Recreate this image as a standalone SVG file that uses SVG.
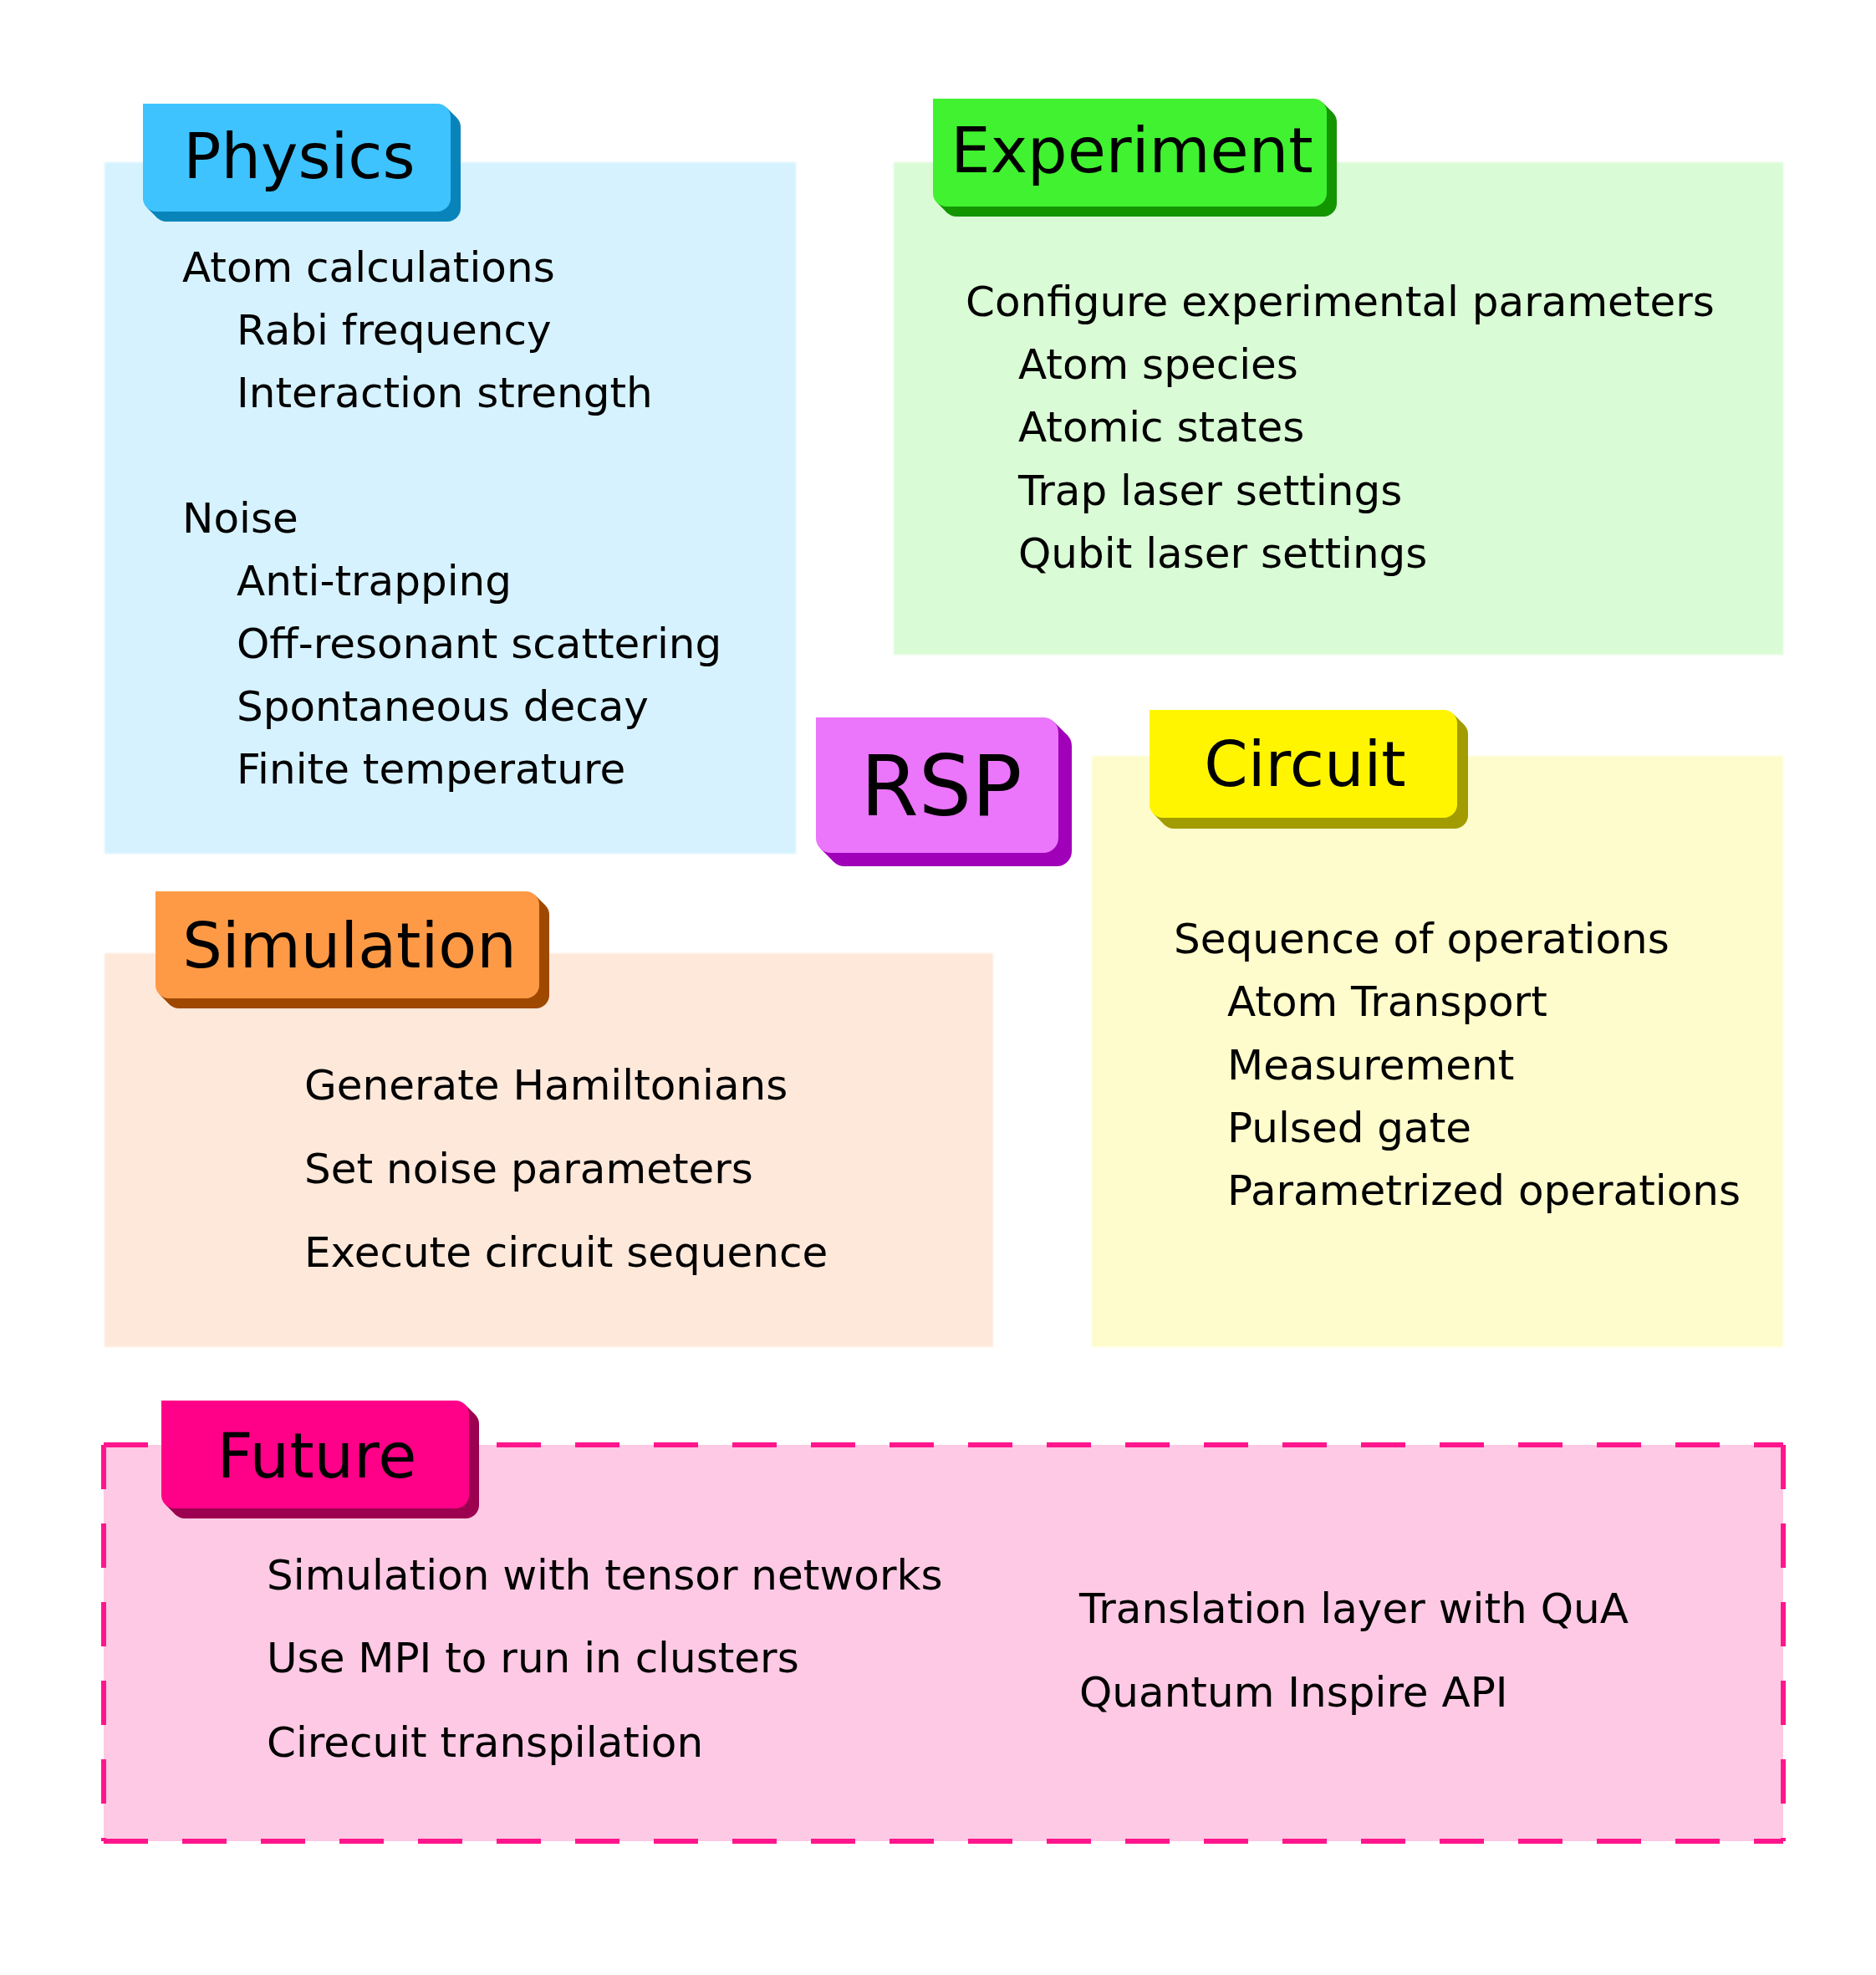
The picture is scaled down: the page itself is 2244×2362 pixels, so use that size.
<svg xmlns="http://www.w3.org/2000/svg" width="2244" height="2362" viewBox="0 0 2244 2362">
<defs>
<filter id="soft" x="-2%" y="-2%" width="104%" height="104%"><feGaussianBlur stdDeviation="1.2"/></filter>
</defs>
<style>
text{font-family:"DejaVu Sans","Liberation Sans",sans-serif;fill:#000}
.title{font-size:75px;text-anchor:middle}
.big{font-size:100px;text-anchor:middle}
.body{font-size:50px}
</style>
<rect width="2244" height="2362" fill="#ffffff"/>

<g id="physics">
<rect x="125" y="194" width="827" height="827" fill="#d6f2fe" filter="url(#soft)"/>
<g transform="translate(171,124)">
<g fill="#0984ba"><path transform="translate(12,12)" d="M0,0H352A16,16 0 0 1 368,16V113A16,16 0 0 1 352,129H16A16,16 0 0 1 0,113Z"/><polygon points="363.3,4.7 375.3,16.7 16.7,136.3 4.7,124.3"/></g>
<path fill="#3ec3ff" d="M0,0H352A16,16 0 0 1 368,16V113A16,16 0 0 1 352,129H16A16,16 0 0 1 0,113Z"/>
<text class="title" x="187" y="89">Physics</text>
</g>
<text class="body" x="218" y="337">Atom calculations</text>
<text class="body" x="283" y="412">Rabi frequency</text>
<text class="body" x="283" y="487">Interaction strength</text>
<text class="body" x="218" y="637">Noise</text>
<text class="body" x="283" y="712">Anti-trapping</text>
<text class="body" x="283" y="787">Off-resonant scattering</text>
<text class="body" x="283" y="862">Spontaneous decay</text>
<text class="body" x="283" y="937">Finite temperature</text>
</g>

<g id="experiment">
<rect x="1069" y="194" width="1064" height="589" fill="#d9fbd5" filter="url(#soft)"/>
<g transform="translate(1116,118)">
<g fill="#139500"><path transform="translate(12,12)" d="M0,0H455A16,16 0 0 1 471,16V113A16,16 0 0 1 455,129H16A16,16 0 0 1 0,113Z"/><polygon points="466.3,4.7 478.3,16.7 16.7,136.3 4.7,124.3"/></g>
<path fill="#40f230" d="M0,0H455A16,16 0 0 1 471,16V113A16,16 0 0 1 455,129H16A16,16 0 0 1 0,113Z"/>
<text class="title" x="238" y="88">Experiment</text>
</g>
<text class="body" x="1155" y="378">Configure experimental parameters</text>
<text class="body" x="1218" y="453">Atom species</text>
<text class="body" x="1218" y="528">Atomic states</text>
<text class="body" x="1218" y="604">Trap laser settings</text>
<text class="body" x="1218" y="679">Qubit laser settings</text>
</g>

<g id="circuit">
<rect x="1306" y="904" width="827" height="707" fill="#fefccc" filter="url(#soft)"/>
<g transform="translate(1375,849)">
<g fill="#a39c00"><path transform="translate(13,13)" d="M0,0H352A16,16 0 0 1 368,16V113A16,16 0 0 1 352,129H16A16,16 0 0 1 0,113Z"/><polygon points="363.3,4.7 376.3,17.7 17.7,137.3 4.7,124.3"/></g>
<path fill="#fff500" d="M0,0H352A16,16 0 0 1 368,16V113A16,16 0 0 1 352,129H16A16,16 0 0 1 0,113Z"/>
<text class="title" x="186" y="91">Circuit</text>
</g>
<text class="body" x="1404" y="1140">Sequence of operations</text>
<text class="body" x="1468" y="1215">Atom Transport</text>
<text class="body" x="1468" y="1291">Measurement</text>
<text class="body" x="1468" y="1366">Pulsed gate</text>
<text class="body" x="1468" y="1441">Parametrized operations</text>
</g>

<g id="simulation">
<rect x="125" y="1140" width="1063" height="471" fill="#fee8da" filter="url(#soft)"/>
<g transform="translate(186,1066)">
<g fill="#9f4800"><path transform="translate(12,12)" d="M0,0H443A16,16 0 0 1 459,16V112A16,16 0 0 1 443,128H16A16,16 0 0 1 0,112Z"/><polygon points="454.3,4.7 466.3,16.7 16.7,135.3 4.7,123.3"/></g>
<path fill="#fe9a45" d="M0,0H443A16,16 0 0 1 459,16V112A16,16 0 0 1 443,128H16A16,16 0 0 1 0,112Z"/>
<text class="title" x="232" y="91">Simulation</text>
</g>
<text class="body" x="364" y="1315">Generate Hamiltonians</text>
<text class="body" x="364" y="1415">Set noise parameters</text>
<text class="body" x="364" y="1515">Execute circuit sequence</text>
</g>

<g id="rsp">
<g transform="translate(976,858)">
<g fill="#a000b8"><path transform="translate(16,16)" d="M0,0H272A18,18 0 0 1 290,18V144A18,18 0 0 1 272,162H18A18,18 0 0 1 0,144Z"/><polygon points="284.7,5.3 300.7,21.3 21.3,172.7 5.3,156.7"/></g>
<path fill="#eb75fb" d="M0,0H272A18,18 0 0 1 290,18V144A18,18 0 0 1 272,162H18A18,18 0 0 1 0,144Z"/>
<text class="big" x="150" y="117">RSP</text>
</g>
</g>

<g id="future">
<rect x="124" y="1728" width="2009" height="474" fill="#fdc9e4"/>
<g stroke="#ff168c" stroke-width="6" stroke-dasharray="53 41" fill="none">
<path d="M124,1728H2133"/>
<path d="M2133,1728V2202"/>
<path d="M124,2202H2133"/>
<path d="M124,1728V2202"/>
</g>
<g transform="translate(193,1675)">
<g fill="#9c0050"><path transform="translate(12,12)" d="M0,0H352A16,16 0 0 1 368,16V113A16,16 0 0 1 352,129H16A16,16 0 0 1 0,113Z"/><polygon points="363.3,4.7 375.3,16.7 16.7,136.3 4.7,124.3"/></g>
<path fill="#ff0088" d="M0,0H352A16,16 0 0 1 368,16V113A16,16 0 0 1 352,129H16A16,16 0 0 1 0,113Z"/>
<text class="title" x="186" y="92">Future</text>
</g>
<text class="body" x="319" y="1901">Simulation with tensor networks</text>
<text class="body" x="319" y="2000">Use MPI to run in clusters</text>
<text class="body" x="319" y="2101">Cirecuit transpilation</text>
<text class="body" x="1291" y="1941">Translation layer with QuA</text>
<text class="body" x="1291" y="2041">Quantum Inspire API</text>
</g>

<g id="connectors"/>
</svg>
